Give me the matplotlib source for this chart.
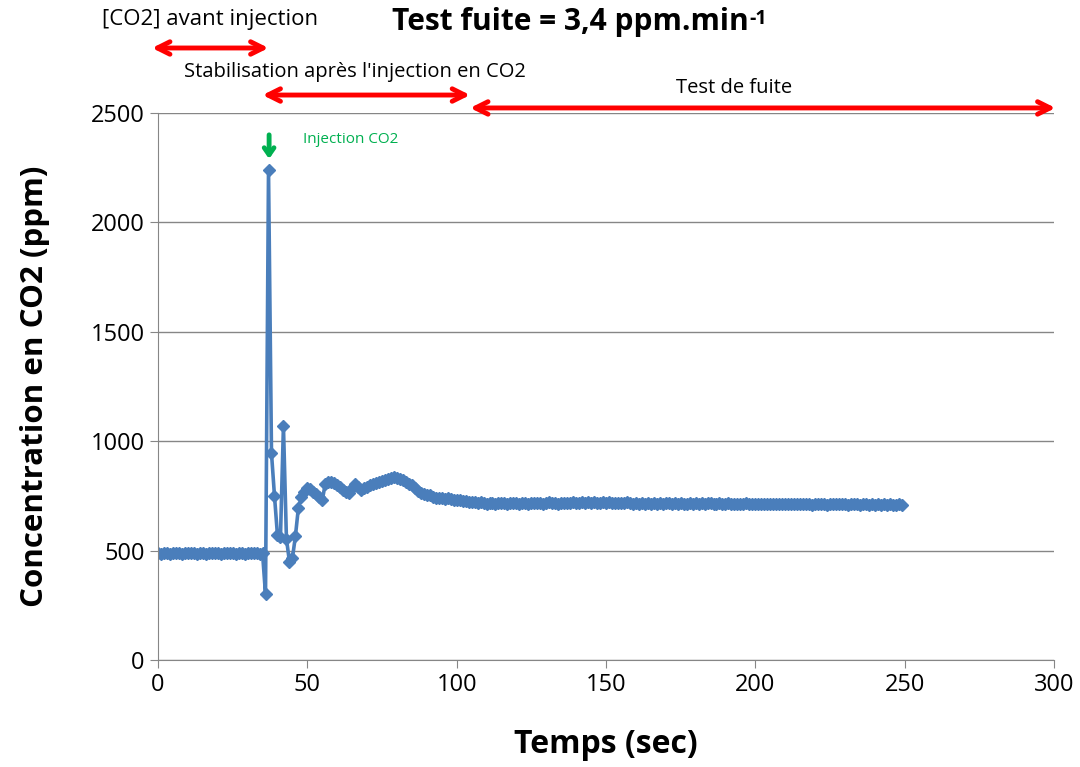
import numpy as np
import matplotlib
matplotlib.use("Agg")
import matplotlib.pyplot as plt

plt.rcParams["font.family"] = ["Open Sans", "DejaVu Sans"]

# CO2 concentration (ppm), one reading per second from t = 0 s
co2_avant = [487, 486, 487, 487, 486, 487, 488, 487, 486, 487, 487, 488,
             487, 486, 487, 487, 486, 487, 488, 487, 487, 486, 487, 487,
             488, 487, 486, 487, 487, 486, 487, 488, 487, 487, 486, 488]
co2_injection = [300, 2240, 945, 750, 570, 560, 1070, 555, 450, 465, 565,
                 695, 745, 770, 785, 780, 770, 760, 745, 730, 805, 812, 815,
                 810, 800, 790, 778, 770, 762, 785, 805, 790, 778, 785, 792,
                 798, 803, 808, 812, 816, 822, 826, 830, 836, 833, 828, 823,
                 815, 806, 798, 785, 772, 765, 760, 755, 752, 747, 742, 739,
                 740, 737, 739, 735, 733, 731, 730, 728, 725, 723]
co2_fuite = [722, 720, 718, 721, 717, 715, 718, 716, 714, 717,
             716, 718, 715, 717, 719, 716, 714, 717, 718, 715,
             717, 719, 716, 718, 715, 717, 720, 716, 718, 715,
             718, 716, 719, 717, 720, 718, 716, 721, 718, 720,
             717, 721, 719, 716, 720, 718, 722, 717, 719, 716,
             718, 716, 720, 717, 715, 716, 714, 716, 715, 717,
             715, 716, 714, 716, 715, 717, 716, 714, 716, 715,
             716, 714, 715, 717, 715, 716, 714, 716, 715, 719,
             716, 714, 715, 716, 714, 715, 716, 714, 715, 713,
             715, 714, 716, 713, 715, 714, 712, 715, 713, 714,
             712, 714, 713, 715, 712, 714, 713, 711, 714, 712,
             713, 711, 714, 712, 710, 713, 711, 714, 712, 710,
             713, 711, 712, 714, 711, 713, 710, 712, 711, 713,
             710, 712, 711, 709, 712, 710, 711, 709, 712, 710,
             711, 709, 710, 712, 710]
co2 = co2_avant + co2_injection + co2_fuite
temps = np.arange(len(co2))  # sampling: 1 s

# phase limits (sec) for the red arrows
phases = [("[CO2] avant injection", -2, 37),
          ("Stabilisation après l'injection en CO2", 35, 104.5),
          ("Test de fuite", 104.5, 300.5)]

BLUE = "#4A7EBB"
GRAY = "#868686"

fig = plt.figure(figsize=(10.8, 7.67), dpi=100)
ax = fig.add_axes([0.1463, 0.1395, 0.8296, 0.7132])

ax.plot(temps, co2, color=BLUE, lw=2.6, marker="D", ms=6, mec=BLUE, mfc=BLUE)

ax.set_xlim(0, 300)
ax.set_ylim(0, 2500)
ax.set_xticks(np.arange(0, 301, 50))
ax.set_yticks(np.arange(0, 2501, 500))
ax.yaxis.grid(True, color=GRAY, lw=1)
ax.set_axisbelow(True)
for s in ("top", "right"):
    ax.spines[s].set_visible(False)
for s in ("left", "bottom"):
    ax.spines[s].set_color(GRAY)
ax.tick_params(colors=GRAY, length=6, labelsize=17, labelcolor="black")

ax.set_xlabel("Temps (sec)", fontsize=23, fontweight="bold", va="center")
ax.set_ylabel("Concentration en CO2 (ppm)", fontsize=22.5, fontweight="bold", va="center")
ax.xaxis.set_label_coords(0.5, -0.155)
ax.yaxis.set_label_coords(-0.137, 0.5)

# annotations above the plot
arrow_y = [2797, 2582, 2523]
text_y = [2925, 2687, 2614]
text_x = [17.5, 66, 193]
text_size = [16, 14.5, 14.5]
for (label, x0, x1), ay in zip(phases, arrow_y):
    ax.annotate("", xy=(x1, ay), xytext=(x0, ay), annotation_clip=False,
                arrowprops=dict(arrowstyle="<->, head_width=0.45, head_length=0.9",
                                color="red", lw=3.5, shrinkA=0, shrinkB=0))
for (label, _, _), x, ty, fs in zip(phases, text_x, text_y, text_size):
    ax.text(x, ty, label, ha="center", va="center", fontsize=fs, clip_on=False)

title = ax.text(138, 2916, "Test fuite = 3,4 ppm.min", ha="center", va="center",
                fontsize=21.5, fontweight="bold", clip_on=False)
fig.canvas.draw()
bb = title.get_window_extent()
sx, sy = fig.transFigure.inverted().transform((bb.x1 + 1, bb.y1 - 2))
fig.text(sx, sy, "-1", fontsize=14, fontweight="bold", ha="left", va="top")

# injection marker
ax.annotate("", xy=(37.2, 2290), xytext=(37.2, 2400), annotation_clip=False,
            arrowprops=dict(arrowstyle="->, head_width=0.35, head_length=0.5",
                            color="#00B050", lw=3.5, shrinkA=0, shrinkB=0))
ax.text(48.5, 2377, "Injection CO2", color="#00B050", fontsize=11,
        ha="left", va="center")

fig.savefig("out.png", dpi=100)
